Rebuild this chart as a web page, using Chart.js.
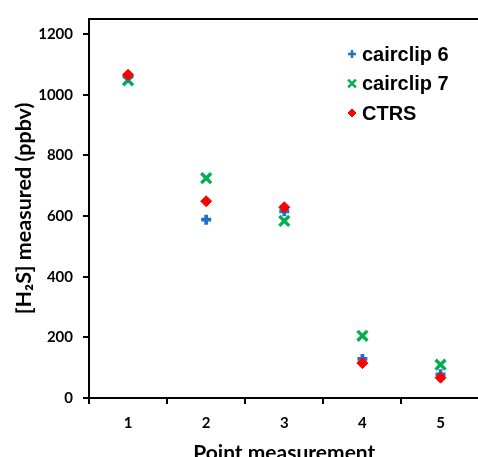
<!DOCTYPE html>
<html>
<head>
<meta charset="utf-8">
<script src="https://cdn.jsdelivr.net/npm/chart.js@4"></script>
<style>
    html, body {margin: 0; padding: 0; background: #fff; overflow: hidden;}
    #wrap {width: 478px; height: 457px; overflow: hidden;}
    canvas {display: block;}
</style>
</head>
<body>
<div id="wrap"><canvas id="myChart" width="490" height="472"></canvas></div>
<script>
const points = ['1', '2', '3', '4', '5'];
const cairclip6 = [1060, 588, 616, 129, 78];
const cairclip7 = [1048, 725, 584, 205, 110];
const ctrs = [1066, 649, 629, 115, 67];
const yTicks = [0, 200, 400, 600, 800, 1000, 1200];

const axisFont = {family: 'Lato', size: 15, weight: 'bold'};

// legend drawn inside the plot area, upper right, like the original
const innerLegend = {
    id: 'innerLegend',
    afterDatasetsDraw(chart) {
        const c = chart.ctx, area = chart.chartArea;
        c.save();
        // frame top edge
        c.strokeStyle = '#000';
        c.lineWidth = 2;
        c.beginPath();
        c.moveTo(area.left, area.top);
        c.lineTo(area.right, area.top);
        c.lineTo(area.right, area.bottom);
        c.stroke();

        c.font = 'bold 20px "Liberation Sans", Arial, sans-serif';
        c.textBaseline = 'middle';
        c.fillStyle = '#000';
        const rows = [0, 2, 1].map(i => chart.data.datasets[i]);
        rows.forEach(function (ds, i) {
            const y = 54 + i * 29.5;
            const isDiamond = ds.pointStyle === 'rectRot';
            c.strokeStyle = ds.borderColor;
            c.fillStyle = ds.backgroundColor;
            c.lineWidth = isDiamond ? 1 : 2.5;
            Chart.helpers.drawPoint(c, {pointStyle: ds.pointStyle, radius: ds.pointStyle === 'crossRot' ? 5.5 : 4,
                borderWidth: c.lineWidth}, 352, y);
            c.fillStyle = '#000';
            c.fillText(ds.label, 362, y + 1);
        });
        c.restore();
    }
};

new Chart(document.getElementById('myChart'), {
    type: 'line',
    plugins: [innerLegend],
    data: {
        labels: points,
        datasets: [
            {label: 'cairclip 6', data: cairclip6, pointStyle: 'cross', pointRadius: 5, pointBorderWidth: 3.8,
                borderColor: '#1E73C6', backgroundColor: '#1E73C6', showLine: false, order: 1},
            {label: 'CTRS', data: ctrs, pointStyle: 'rectRot', pointRadius: 5.5, pointBorderWidth: 1,
                borderColor: '#FF0000', backgroundColor: '#FF0000', showLine: false, order: 0},
            {label: 'cairclip 7', data: cairclip7, pointStyle: 'crossRot', pointRadius: 7, pointBorderWidth: 3.4,
                borderColor: '#00B050', backgroundColor: '#00B050', showLine: false, order: 2}
        ]
    },
    options: {
        responsive: false,
        animation: false,
        layout: {padding: {top: 15, right: 6, left: 0, bottom: 0}},
        plugins: {legend: {display: false}, tooltip: {enabled: false}},
        scales: {
            x: {
                type: 'category',
                offset: true,
                grid: {offset: true, drawOnChartArea: false, tickLength: 6, color: '#000', lineWidth: 2},
                border: {color: '#000', width: 2},
                ticks: {color: '#000', font: axisFont, padding: 10},
                title: {display: true, text: 'Point measurement', color: '#000',
                    font: {family: 'Lato', size: 21, weight: 'bold'}, padding: {top: 4, bottom: 6}},
                afterFit: function (s) { s.height = 74; }
            },
            y: {
                min: 0,
                max: 1250,
                afterBuildTicks: function (s) { s.ticks = yTicks.map(v => ({value: v})); },
                grid: {drawOnChartArea: false, tickLength: 6, color: '#000', lineWidth: 2},
                border: {color: '#000', width: 2},
                ticks: {color: '#000', font: axisFont, padding: 10, callback: v => String(v)},
                title: {display: true, text: '[H\u2082S] measured (ppbv)', color: '#000',
                    font: {family: 'Lato', size: 21.5, weight: 'bold'}, padding: {top: 11, bottom: 0}},
                afterFit: function (s) { s.width = 89; }
            }
        }
    }
});
</script>
</body>
</html>
